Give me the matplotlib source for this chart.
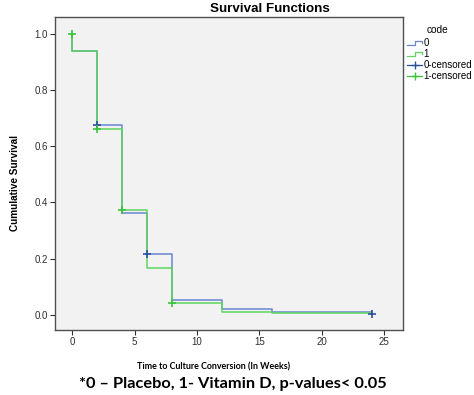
import matplotlib.pyplot as plt
from matplotlib.lines import Line2D
from matplotlib.legend_handler import HandlerBase

# Kaplan-Meier steps (time in weeks, cumulative survival)
t_placebo = [0, 0, 2, 4, 6, 8, 12, 16, 24]
s_placebo = [1.0, 0.94, 0.677, 0.362, 0.215, 0.052, 0.021, 0.012, 0.012]
t_vitd = [0, 0, 2, 4, 6, 8, 12, 16, 24]
s_vitd = [1.0, 0.94, 0.663, 0.372, 0.166, 0.042, 0.011, 0.007, 0.007]

# censored points
cens_t_placebo = [2, 6, 24]
cens_s_placebo = [0.677, 0.215, 0.005]
cens_t_vitd = [0, 2, 4, 8]
cens_s_vitd = [1.0, 0.663, 0.372, 0.042]

legend_labels = ['0', '1', '0-censored', '1-censored']

blue = '#6a86cf'
green = '#5fd45f'
blue_dark = '#2e4f9e'
green_dark = '#3cc23c'

plt.rcParams['font.family'] = ['Liberation Sans', 'DejaVu Sans']


class StepHandler(HandlerBase):
    # little step glyph like SPSS legend
    def create_artists(self, legend, orig_handle, xdescent, ydescent,
                       width, height, fontsize, trans):
        x0 = -xdescent
        xs = [x0, x0 + width * 0.5, x0 + width * 0.5, x0 + width, x0 + width]
        ys = [0.15 * height, 0.15 * height, 0.85 * height, 0.85 * height, 0.45 * height]
        ln = Line2D(xs, ys, color=orig_handle.get_color(), lw=0.9)
        ln.set_transform(trans)
        return [ln]


fig = plt.figure(figsize=(4.74, 3.95), dpi=100)
ax = fig.add_axes([0.116, 0.165, 0.734, 0.792])
ax.set_facecolor('#f2f2f2')

ax.step(t_placebo, s_placebo, where='post', color=blue, lw=1.1)
ax.step(t_vitd, s_vitd, where='post', color=green, lw=1.1)
ax.plot(cens_t_placebo, cens_s_placebo, '+', color=blue_dark, ms=6, mew=1.2)
ax.plot(cens_t_vitd, cens_s_vitd, '+', color=green_dark, ms=6, mew=1.2)

ax.set_xlim(-1.38, 26.5)
ax.set_ylim(-0.053, 1.06)
ax.set_xticks([0, 5, 10, 15, 20, 25])
ax.set_yticks([0.0, 0.2, 0.4, 0.6, 0.8, 1.0])
ax.set_yticklabels(['0.0', '0.2', '0.4', '0.6', '0.8', '1.0'])
ax.tick_params(labelsize=7, length=3.5, width=0.8, pad=1.5, colors='#303030')
for sp in ax.spines.values():
    sp.set_color('#505050')
    sp.set_linewidth(1.0)

fig.text(0.57, 0.978, 'Survival Functions', ha='center', va='center',
         fontsize=9.6, fontweight='bold')
fig.text(0.032, 0.537, 'Cumulative Survival', rotation=90, ha='center',
         va='center', fontsize=7.2, fontweight='bold')
fig.text(0.45, 0.071, 'Time to Culture Conversion (In Weeks)', ha='center',
         va='center', fontsize=6.4, fontweight='bold',
         family=['Lato', 'DejaVu Sans'])
fig.text(0.492, 0.027, '*0 \u2013 Placebo, 1- Vitamin D, p-values< 0.05',
         ha='center', va='center', fontsize=11.8, fontweight='bold',
         family=['Lato', 'DejaVu Sans'])

# legend title, centred over the entries
fig.text(0.924, 0.923, 'code', ha='center', va='center', fontsize=7.3)

handles = [
    Line2D([], [], color=blue),
    Line2D([], [], color=green),
    Line2D([], [], color=blue_dark, marker='+', ms=6, lw=0.9),
    Line2D([], [], color=green_dark, marker='+', ms=6, lw=0.9),
]
leg = fig.legend(handles, legend_labels, loc='upper left',
                 bbox_to_anchor=(0.845, 0.92), frameon=False,
                 fontsize=7, handlelength=1.5,
                 handletextpad=0.15, labelspacing=0.1, borderpad=0.2,
                 handler_map={handles[0]: StepHandler(), handles[1]: StepHandler()})

fig.savefig('out.png', dpi=100)
